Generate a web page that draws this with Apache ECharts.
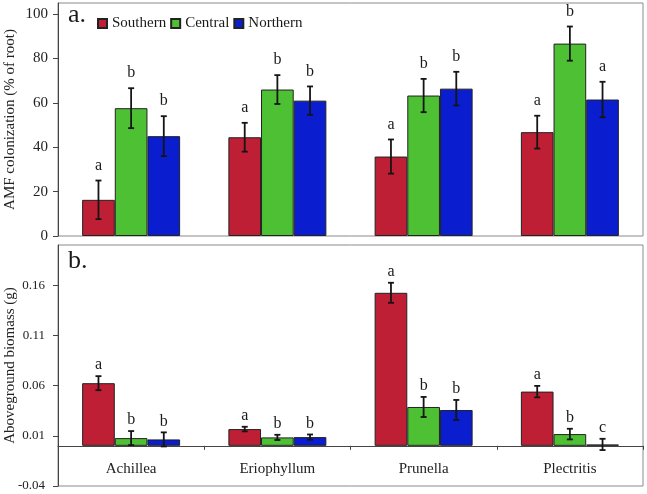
<!DOCTYPE html>
<html>
<head>
<meta charset="utf-8">
<script src="https://cdn.jsdelivr.net/npm/echarts@6/dist/echarts.min.js"></script>
<style>html,body{margin:0;padding:0;background:#fff;}#c{width:647px;height:494px;}</style>
</head>
<body>
<div id="c"></div>
<script>
var categories = ['Achillea', 'Eriophyllum', 'Prunella', 'Plectritis'];
var seriesNames = ['Southern', 'Central', 'Northern'];

var amfSouthern = [16.3, 44.5, 35.8, 46.8];
var amfSouthernErr = [8.7, 6.5, 7.7, 7.4];
var amfCentral = [57.6, 66.0, 63.3, 86.7];
var amfCentralErr = [9.0, 6.5, 7.5, 7.7];
var amfNorthern = [45.0, 61.0, 66.4, 61.5];
var amfNorthernErr = [9.0, 6.4, 7.6, 8.0];
var amfLettersS = ['a', 'a', 'a', 'a'];
var amfLettersC = ['b', 'b', 'b', 'b'];
var amfLettersN = ['b', 'b', 'b', 'a'];

var bioSouthern = [0.0624, 0.0167, 0.1524, 0.0540];
var bioSouthernErr = [0.0070, 0.0023, 0.0100, 0.0057];
var bioCentral = [0.0077, 0.0084, 0.0387, 0.0117];
var bioCentralErr = [0.0070, 0.0026, 0.0100, 0.0053];
var bioNorthern = [0.0064, 0.0087, 0.0357, 0.0014];
var bioNorthernErr = [0.0070, 0.0026, 0.0100, 0.0056];
var bioLettersS = ['a', 'a', 'a', 'a'];
var bioLettersC = ['b', 'b', 'b', 'b'];
var bioLettersN = ['b', 'b', 'b', 'c'];

var amfTicks = [0, 20, 40, 60, 80, 100];
var bioTicks = [-0.04, 0.01, 0.06, 0.11, 0.16];

var colors = ['#BF1F34', '#4DC033', '#0A1DCF'];
var FONT = "'Liberation Serif', 'Times New Roman', serif";
var GAP = 0.33;

function errData(vals, errs, letters) {
  return vals.map(function (v, i) { return [i, v, errs[i], letters[i]]; });
}

function makeErr(gridIdx, sIdx, vals, errs, letters, textGap) {
  return {
    type: 'custom',
    xAxisIndex: gridIdx, yAxisIndex: gridIdx,
    z: 10, silent: true,
    encode: { x: 0, y: 1 },
    data: errData(vals, errs, letters),
    renderItem: function (params, api) {
      var idx = api.value(0), v = api.value(1), e = api.value(2);
      var band = api.size([1, 0])[0];
      var bw = band * (1 - GAP) / 3;
      var c = api.coord([idx, v]);
      var x = c[0] + (sIdx - 1) * bw;
      var yTop = api.coord([idx, v + e])[1];
      var yBot = api.coord([idx, v - e])[1];
      var cap = 3;
      var st = { stroke: '#151515', lineWidth: 1.8 };
      return {
        type: 'group',
        children: [
          { type: 'line', shape: { x1: x, y1: yTop, x2: x, y2: yBot }, style: st },
          { type: 'line', shape: { x1: x - cap, y1: yTop, x2: x + cap, y2: yTop }, style: st },
          { type: 'line', shape: { x1: x - cap, y1: yBot, x2: x + cap, y2: yBot }, style: st },
          { type: 'text', style: { text: api.value(3), x: x, y: yTop - textGap, align: 'center', verticalAlign: 'bottom', font: '16px ' + FONT, fill: '#1a1a1a' } }
        ]
      };
    }
  };
}

function makeBar(gridIdx, sIdx, vals) {
  return {
    type: 'bar', name: seriesNames[sIdx],
    xAxisIndex: gridIdx, yAxisIndex: gridIdx,
    data: vals, barGap: '0%', barCategoryGap: (GAP * 100) + '%',
    itemStyle: { color: colors[sIdx], borderColor: '#222', borderWidth: 1 },
    emphasis: { disabled: true }
  };
}

var chart = echarts.init(document.getElementById('c'), null, { renderer: 'canvas' });

chart.setOption({
  animation: false,
  backgroundColor: '#fff',
  textStyle: { fontFamily: FONT },
  grid: [
    { left: 58, right: 4, top: 3, height: 233, show: true, borderColor: '#8a8a8a', borderWidth: 1, outerBoundsMode: 'none' },
    { left: 58, right: 4, top: 245, height: 241, show: true, borderColor: '#8a8a8a', borderWidth: 1, outerBoundsMode: 'none' }
  ],
  legend: {
    data: seriesNames, left: 92, top: 11, itemWidth: 9, itemHeight: 9, itemGap: 4,
    icon: 'rect', textStyle: { fontFamily: FONT, fontSize: 15, color: '#1a1a1a' }
  },
  xAxis: [
    { type: 'category', gridIndex: 0, data: categories, show: false },
    {
      type: 'category', gridIndex: 1, data: categories,
      axisLine: { onZero: true, lineStyle: { color: '#444', width: 1 } },
      axisTick: { show: true, interval: 0, length: 4, lineStyle: { color: '#444' } },
      axisLabel: { show: false }
    },
    {
      type: 'category', gridIndex: 1, data: categories, position: 'bottom',
      axisLine: { show: false, onZero: false },
      axisTick: { show: false },
      axisLabel: { show: true, interval: 0, margin: -24, verticalAlign: 'top', fontFamily: FONT, fontSize: 15, color: '#222' }
    }
  ],
  yAxis: [
    {
      type: 'value', gridIndex: 0, min: 0, max: 105,
      name: 'AMF colonization (% of root)', nameLocation: 'middle', nameGap: 40, nameMoveOverlap: false,
      nameTextStyle: { fontFamily: FONT, fontSize: 15, color: '#222' },
      splitLine: { show: false },
      axisLine: { show: true, lineStyle: { color: '#444' } },
      axisTick: { show: true, length: 5, customValues: amfTicks, lineStyle: { color: '#444' } },
      axisLabel: { margin: 10, customValues: amfTicks, fontFamily: FONT, fontSize: 15, color: '#222' }
    },
    {
      type: 'value', gridIndex: 1, min: -0.04, max: 0.2,
      name: 'Aboveground biomass (g)', nameLocation: 'middle', nameGap: 40, nameMoveOverlap: false,
      nameTextStyle: { fontFamily: FONT, fontSize: 15, color: '#222' },
      splitLine: { show: false },
      axisLine: { show: true, onZero: false, lineStyle: { color: '#444' } },
      axisTick: { show: true, length: 5, customValues: bioTicks, lineStyle: { color: '#444' } },
      axisLabel: { margin: 13, customValues: bioTicks, fontFamily: FONT, fontSize: 13, color: '#222',
        formatter: function (v) { return String(Math.round(v * 100) / 100); } }
    }
  ],
  graphic: [
    { type: 'text', left: 68, top: 2, style: { text: 'a.', font: '26px ' + FONT, fill: '#1a1a1a' } },
    { type: 'text', left: 68, top: 248, style: { text: 'b.', font: '26px ' + FONT, fill: '#1a1a1a' } }
  ],
  series: [
    makeBar(0, 0, amfSouthern), makeBar(0, 1, amfCentral), makeBar(0, 2, amfNorthern),
    makeBar(1, 0, bioSouthern), makeBar(1, 1, bioCentral), makeBar(1, 2, bioNorthern),
    makeErr(0, 0, amfSouthern, amfSouthernErr, amfLettersS, 7),
    makeErr(0, 1, amfCentral, amfCentralErr, amfLettersC, 7),
    makeErr(0, 2, amfNorthern, amfNorthernErr, amfLettersN, 7),
    makeErr(1, 0, bioSouthern, bioSouthernErr, bioLettersS, 3),
    makeErr(1, 1, bioCentral, bioCentralErr, bioLettersC, 3),
    makeErr(1, 2, bioNorthern, bioNorthernErr, bioLettersN, 3)
  ]
});
</script>
</body>
</html>
